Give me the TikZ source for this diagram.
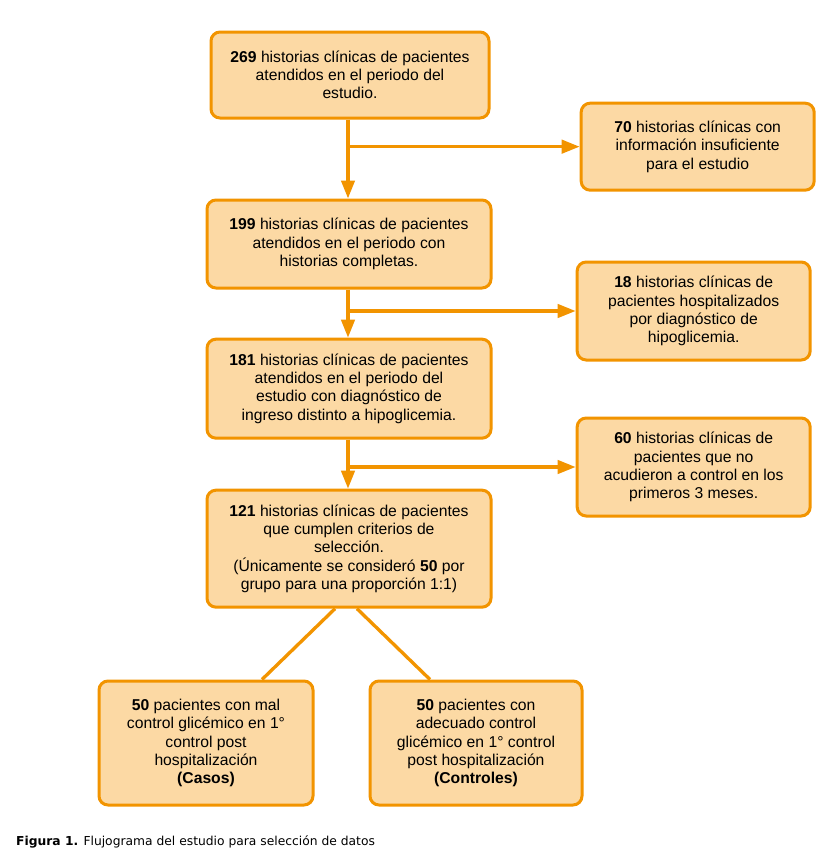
\documentclass[tikz,border=0pt]{standalone}
\usepackage{fontspec}
\setmainfont{Liberation Sans}
\newfontfamily\capfont{DejaVu Sans}
\usepackage{tikz}
\usetikzlibrary{positioning, calc, arrows.meta}

\definecolor{cajafill}{RGB}{252,217,164}
\definecolor{cajaline}{RGB}{242,148,0}

\tikzset{
	caja/.style={shape=rectangle, rounded corners=0.27cm, draw=cajaline, fill=cajafill,
		line width=0.09cm, align=center, inner sep=0pt,
		font=\fontsize{13.4}{15.6}\selectfont},
	flecha/.style={draw=cajaline, line width=0.1cm}
}

\begin{document}
\begin{tikzpicture}
		\useasboundingbox (0,0) rectangle (25.02,-25.8);

		\node[caja, minimum width=8.34cm, minimum height=2.58cm] (h269) at (10.5,-2.25)
			{\textbf{269} historias clínicas de pacientes\\atendidos en el periodo del\\estudio.};
		\node[caja, minimum width=6.99cm, minimum height=2.61cm] (h70) at (20.93,-4.40)
			{\textbf{70} historias clínicas con\\información insuficiente\\para el estudio};
		\node[caja, minimum width=8.52cm, minimum height=2.64cm] (h199) at (10.47,-7.32)
			{\textbf{199} historias clínicas de pacientes\\atendidos en el periodo con\\historias completas.};
		\node[caja, minimum width=6.99cm, minimum height=2.94cm] (h18) at (20.81,-9.33)
			{\textbf{18} historias clínicas de\\pacientes hospitalizados\\por diagnóstico de\\hipoglicemia.};
		\node[caja, minimum width=8.52cm, minimum height=2.97cm] (h181) at (10.47,-11.66)
			{\textbf{181} historias clínicas de pacientes\\atendidos en el periodo del\\estudio con diagnóstico de\\ingreso distinto a hipoglicemia.};
		\node[caja, minimum width=6.99cm, minimum height=2.94cm] (h60) at (20.81,-14.01)
			{\textbf{60} historias clínicas de\\pacientes que no\\acudieron a control en los\\primeros 3 meses.};
		\node[caja, minimum width=8.52cm, minimum height=3.51cm] (h121) at (10.47,-16.46)
			{\textbf{121} historias clínicas de pacientes\\que cumplen criterios de\\selección.\\(Únicamente se consideró \textbf{50} por\\grupo para una proporción 1:1)};
		\node[caja, minimum width=6.42cm, minimum height=3.72cm] (casos) at (6.18,-22.29)
			{\textbf{50} pacientes con mal\\control glicémico en 1°\\control post\\hospitalización\\\textbf{(Casos)}};
		\node[caja, minimum width=6.36cm, minimum height=3.72cm] (controles) at (14.28,-22.29)
			{\textbf{50} pacientes con\\adecuado control\\glicémico en 1° control\\post hospitalización\\\textbf{(Controles)}};

		\coordinate (eje) at (10.44,0);

		\begin{scope}[>={Triangle[length=0.54cm, width=0.4cm]}]

			\draw [flecha,->] (eje |- h269.south) -- (eje |- h199.north);
			\draw [flecha,->] (eje |- h70.west) -- (h70.west);
			\draw [flecha,->] (eje |- h199.south) -- (eje |- h181.north);
			\draw [flecha,->] (eje |- h18.west) -- (h18.west);
			\draw [flecha,->] (eje |- h181.south) -- (eje |- h121.north);
			\draw [flecha,->] (eje |- h60.west) -- (h60.west);

			\draw [flecha] ($(h121.south)+(-0.42,0)$) -- ($(casos.north)+(1.68,0)$);
			\draw [flecha] ($(h121.south)+(0.24,0)$) -- ($(controles.north)+(-1.38,0)$);

		\end{scope}

		\node[anchor=west, font=\capfont\fontsize{10.5}{12}\selectfont, inner sep=0pt] (pie) at (0.48,-25.26)
			{\textbf{Figura 1.} Flujograma del estudio para selección de datos};

	\end{tikzpicture}
\end{document}
